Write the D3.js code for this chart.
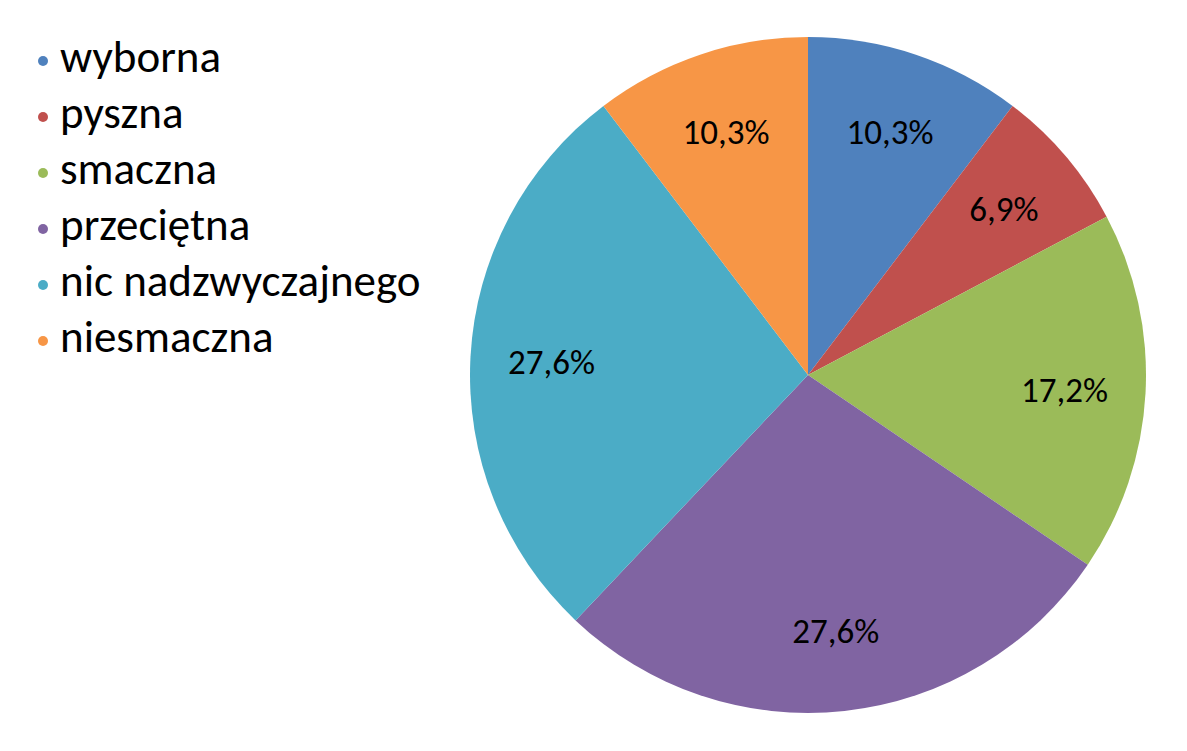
<!DOCTYPE html>
<html>
<head>
<meta charset="utf-8">
<script src="https://cdn.jsdelivr.net/npm/d3@7"></script>
<style>
  body { margin: 0; background: #fff; }
  text { font-family: Carlito, Calibri, Lato, sans-serif; fill: #000; }
</style>
</head>
<body>
<div id="chart"></div>
<script>
// survey answers (counts out of 29)
const categories = ["wyborna", "pyszna", "smaczna", "przeciętna", "nic nadzwyczajnego", "niesmaczna"];
const counts = [3, 2, 5, 8, 8, 3];
const labels = ["10,3%", "6,9%", "17,2%", "27,6%", "27,6%", "10,3%"];
const colors = ["#4F81BD", "#C0504D", "#9BBB59", "#8064A2", "#4BACC6", "#F79646"];

const width = 1187, height = 751;
const cx = 808, cy = 375, radius = 338;

const svg = d3.select("#chart").append("svg")
    .attr("width", width)
    .attr("height", height);

const pie = d3.pie().sort(null).value(d => d.value);
const data = categories.map((c, i) => ({ name: c, value: counts[i], label: labels[i], color: colors[i] }));
const arcs = pie(data);

const arc = d3.arc().innerRadius(0).outerRadius(radius);
const labelArc = d3.arc().innerRadius(radius * 0.76).outerRadius(radius * 0.76);

const g = svg.append("g").attr("transform", `translate(${cx},${cy})`);

g.selectAll(".slice")
    .data(arcs)
    .enter().append("path")
    .attr("class", "slice")
    .attr("d", arc)
    .style("fill", d => d.data.color);

g.selectAll(".slice-label")
    .data(arcs)
    .enter().append("text")
    .attr("class", "slice-label")
    .attr("transform", d => `translate(${labelArc.centroid(d)})`)
    .attr("text-anchor", "middle")
    .attr("dy", "0.36em")
    .style("font-size", "35px")
    .text(d => d.data.label);

// legend
const legend = svg.append("g").attr("transform", "translate(43,61)");
const rows = legend.selectAll(".legend-row")
    .data(data)
    .enter().append("g")
    .attr("class", "legend-row")
    .attr("transform", (d, i) => `translate(0,${i * 56})`);

rows.append("circle")
    .attr("r", 5)
    .style("fill", d => d.color);

rows.append("text")
    .attr("x", 17)
    .attr("y", 11)
    .style("font-size", "45px")
    .text(d => d.name);
</script>
</body>
</html>
